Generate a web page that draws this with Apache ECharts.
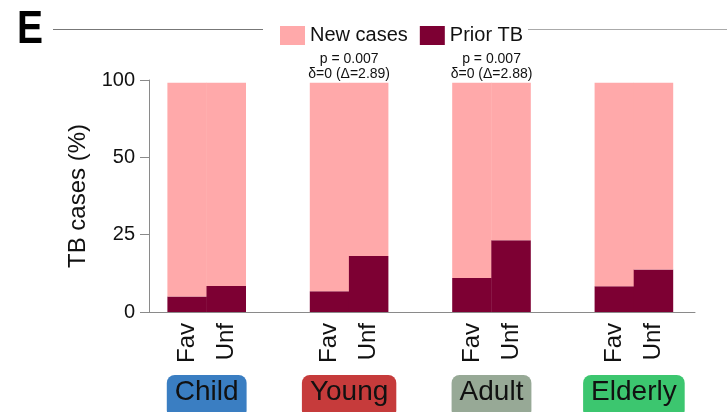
<!DOCTYPE html>
<html>
<head>
<meta charset="utf-8">
<script src="https://cdn.jsdelivr.net/npm/echarts@6/dist/echarts.min.js"></script>
<style>
  html, body { margin: 0; padding: 0; background: #fff; }
  #chart { width: 727px; height: 412px; }
</style>
</head>
<body>
<div id="chart"></div>
<script>
// Age groups and their badge colours
const groups = ['Child', 'Young', 'Adult', 'Elderly'];
const groupColors = ['#3a7ec2', '#c63b3b', '#97a996', '#3cc66f'];

// Percent of TB cases, favourable (Fav) vs unfavourable (Unf) outcome
const priorFav = [5.0, 6.7, 11.0, 8.3];
const priorUnf = [8.4, 18.1, 23.2, 13.7];
const newFav = [93.2, 91.5, 87.2, 89.9];
const newUnf = [89.8, 80.1, 75.0, 84.5];

// y tick labels (upper half of the axis is compressed 2:1 above 50)
const yTicks = [0, 25, 50, 100];

// Significance notes per group (empty = none)
const notes = ['', 'p = 0.007\nδ=0 (Δ=2.89)', 'p = 0.007\nδ=0 (Δ=2.88)', ''];

const FONT = '"Liberation Sans", Arial, sans-serif';
const NEW_COLOR = '#ffa9aa';
const PRIOR_COLOR = '#7d0033';

// map a percentage onto the broken axis: linear to 50, half scale above
function toAxis(v) { return v <= 50 ? v : 50 + (v - 50) / 2; }
const axisMax = toAxis(100);

function stackTop(prior, added) {
  return added.map((a, i) => toAxis(prior[i] + a) - toAxis(prior[i]));
}

const catLabel = (txt) => ({
  show: true, position: 'bottom', distance: 11, rotate: 90,
  align: 'right', verticalAlign: 'middle',
  formatter: txt, fontSize: 24, color: '#111', fontFamily: FONT
});

const rich = {};
groups.forEach((g, i) => {
  rich['g' + i] = {
    backgroundColor: groupColors[i], borderRadius: 8,
    padding: [3, 8, 12, 8], fontSize: 28, color: '#111', fontFamily: FONT
  };
});

const unfNewData = stackTop(priorUnf, newUnf).map((v, i) => notes[i] ? {
  value: v,
  label: {
    show: true, position: 'top', distance: 1, offset: [-19.5, 0],
    formatter: notes[i], fontSize: 14, lineHeight: 15, color: '#111',
    fontFamily: FONT, align: 'center'
  }
} : v);

const BAR_W = 39.5;

const chart = echarts.init(document.getElementById('chart'), null, { renderer: 'canvas' });

chart.setOption({
  animation: false,
  backgroundColor: '#fff',
  textStyle: { fontFamily: FONT },
  legend: {
    data: ['New cases', 'Prior TB'],
    left: 275, top: 20.5,
    icon: 'rect', itemWidth: 25, itemHeight: 19, itemGap: 12,
    textStyle: { fontSize: 20, color: '#111', fontFamily: FONT }
  },
  grid: [
    { left: 135.5, right: 21.9, top: 80, bottom: 100, outerBoundsMode: 'none', containLabel: false },
    { left: 149, right: 32, top: 80, bottom: 100, outerBoundsMode: 'none', containLabel: false }
  ],
  xAxis: [
    {
      type: 'category', gridIndex: 0, data: groups,
      axisLine: { show: false }, axisTick: { show: false }, axisLabel: { show: false }
    },
    {
      type: 'category', gridIndex: 0, data: groups, position: 'bottom',
      axisLine: { show: false }, axisTick: { show: false },
      axisLabel: {
        margin: 63, verticalAlign: 'top',
        formatter: (v, i) => '{g' + i + '|' + v + '}', rich: rich
      }
    },
    {
      type: 'value', gridIndex: 1, min: 0, max: 1,
      axisLine: { show: true, lineStyle: { color: '#8a8a8a', width: 1 } },
      axisTick: { show: false }, axisLabel: { show: false }, splitLine: { show: false }
    }
  ],
  yAxis: [
    { type: 'value', gridIndex: 0, min: 0, max: axisMax, show: false },
    {
      type: 'value', gridIndex: 1, min: 0, max: axisMax, interval: 25,
      name: 'TB cases (%)', nameLocation: 'middle', nameGap: 57,
      nameTextStyle: { fontSize: 24, color: '#111', fontFamily: FONT },
      axisLine: { show: true, lineStyle: { color: '#8a8a8a', width: 1 } },
      axisTick: { show: true, inside: false, length: 9, lineStyle: { color: '#8a8a8a' } },
      axisLabel: {
        margin: 14, fontSize: 20, color: '#111', fontFamily: FONT,
        formatter: (v) => {
          const idx = [0, 25, 50, axisMax].indexOf(v);
          return idx >= 0 ? String(yTicks[idx]) : '';
        }
      },
      splitLine: { show: false }
    }
  ],
  series: [
    {
      name: 'Prior TB', type: 'bar', stack: 'fav', xAxisIndex: 0, yAxisIndex: 0,
      barWidth: BAR_W, barGap: '-1%', itemStyle: { color: PRIOR_COLOR },
      label: catLabel('Fav'), data: priorFav.map(toAxis)
    },
    {
      name: 'New cases', type: 'bar', stack: 'fav', xAxisIndex: 0, yAxisIndex: 0,
      barWidth: BAR_W, barGap: '-1%', itemStyle: { color: NEW_COLOR },
      data: stackTop(priorFav, newFav)
    },
    {
      name: 'Prior TB', type: 'bar', stack: 'unf', xAxisIndex: 0, yAxisIndex: 0,
      barWidth: BAR_W, barGap: '-1%', itemStyle: { color: PRIOR_COLOR },
      label: catLabel('Unf'), data: priorUnf.map(toAxis)
    },
    {
      name: 'New cases', type: 'bar', stack: 'unf', xAxisIndex: 0, yAxisIndex: 0,
      barWidth: BAR_W, barGap: '-1%', itemStyle: { color: NEW_COLOR },
      data: unfNewData
    }
  ],
  graphic: [
    {
      type: 'text', x: 17, y: 30, scaleY: 1.18,
      style: {
        text: 'E', fontSize: 39, fontWeight: 'bold', fontFamily: FONT,
        fill: '#000', textVerticalAlign: 'middle'
      }
    },
    { type: 'line', shape: { x1: 53, y1: 29.5, x2: 263, y2: 29.5 }, style: { stroke: '#777', lineWidth: 1 } },
    { type: 'line', shape: { x1: 528, y1: 29.5, x2: 727, y2: 29.5 }, style: { stroke: '#aaa', lineWidth: 1 } }
  ]
});
</script>
</body>
</html>
